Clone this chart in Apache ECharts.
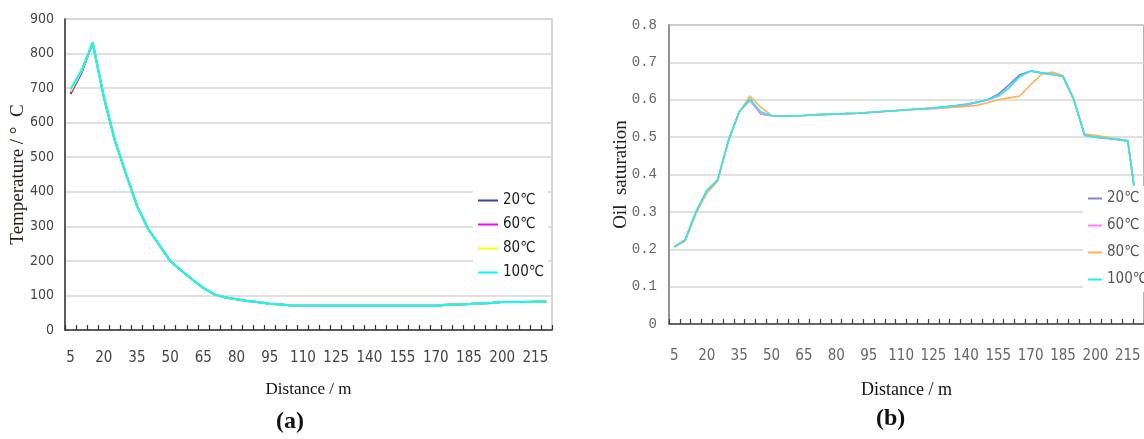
<!DOCTYPE html>
<html>
<head>
<meta charset="utf-8">
<script src="https://cdn.jsdelivr.net/npm/echarts@6/dist/echarts.min.js"></script>
<style>
  html, body { margin: 0; padding: 0; background: #ffffff; }
  #wrap { position: relative; width: 1144px; height: 439px; overflow: hidden; }
  .panel { position: absolute; left: 0; top: 0; width: 1144px; height: 439px; }
</style>
</head>
<body>
<div id="wrap">
  <div id="chartA" class="panel"></div>
  <div id="chartB" class="panel"></div>
</div>
<script>
// Distance along the well (m), one category every 5 m
const distance = [5, 10, 15, 20, 25, 30, 35, 40, 45, 50, 55, 60, 65, 70, 75, 80, 85, 90, 95, 100,
  105, 110, 115, 120, 125, 130, 135, 140, 145, 150, 155, 160, 165, 170, 175, 180, 185, 190, 195, 200,
  205, 210, 215, 220];

const seriesNames = ['20℃', '60℃', '80℃', '100℃'];

// (a) Temperature profile (°C) for each injection temperature
const temp20 = [683, 745, 832, 675, 549, 453, 360, 293, 247, 200, 172, 146, 122, 103, 94, 89, 84, 80, 76, 74,
  71, 70, 70, 70, 70, 70, 70, 70, 70, 70, 70, 70, 70, 70, 73, 74, 75, 77, 78, 81, 81, 81, 82, 82];
const temp60 = [686, 748, 832, 675, 549, 453, 360, 293, 247, 200, 172, 146, 122, 103, 94, 89, 84, 80, 76, 74,
  71, 70, 70, 70, 70, 70, 70, 70, 70, 70, 70, 70, 70, 70, 73, 74, 75, 77, 78, 81, 81, 81, 82, 82];
const temp80 = [690, 750, 832, 675, 549, 453, 360, 293, 247, 200, 172, 146, 122, 103, 94, 89, 84, 80, 76, 74,
  71, 70, 70, 70, 70, 70, 70, 70, 70, 70, 70, 70, 70, 70, 73, 74, 75, 77, 78, 81, 81, 81, 82, 82];
const temp100 = [697, 752, 832, 675, 549, 453, 360, 293, 247, 200, 172, 146, 122, 103, 94, 89, 84, 80, 76, 74,
  71, 70, 70, 70, 70, 70, 70, 70, 70, 70, 70, 70, 70, 70, 73, 74, 75, 77, 78, 81, 81, 81, 82, 82];

// (b) Oil saturation profile for each injection temperature
const sat20 = [0.207, 0.225, 0.300, 0.357, 0.385, 0.490, 0.568, 0.602, 0.562, 0.557, 0.556, 0.557, 0.558, 0.560, 0.561,
  0.562, 0.563, 0.564, 0.566, 0.568, 0.570, 0.572, 0.574, 0.576, 0.578, 0.581, 0.584, 0.588, 0.593, 0.600,
  0.615, 0.640, 0.667, 0.677, 0.672, 0.668, 0.662, 0.600, 0.505, 0.500, 0.497, 0.494, 0.490, 0.280];
const sat60 = [0.207, 0.225, 0.300, 0.357, 0.385, 0.490, 0.568, 0.598, 0.562, 0.557, 0.556, 0.557, 0.558, 0.560, 0.561,
  0.562, 0.563, 0.564, 0.566, 0.568, 0.570, 0.572, 0.574, 0.574, 0.576, 0.578, 0.581, 0.585, 0.593, 0.600,
  0.610, 0.632, 0.662, 0.677, 0.672, 0.668, 0.662, 0.600, 0.505, 0.500, 0.497, 0.494, 0.490, 0.280];
const sat80 = [0.205, 0.222, 0.295, 0.350, 0.382, 0.488, 0.566, 0.610, 0.580, 0.558, 0.556, 0.557, 0.558, 0.560, 0.561,
  0.562, 0.563, 0.564, 0.566, 0.568, 0.570, 0.572, 0.574, 0.576, 0.578, 0.579, 0.580, 0.582, 0.585, 0.592,
  0.600, 0.605, 0.610, 0.640, 0.668, 0.674, 0.665, 0.603, 0.508, 0.505, 0.500, 0.495, 0.490, 0.280];
const sat100 = [0.207, 0.225, 0.300, 0.357, 0.385, 0.490, 0.568, 0.602, 0.568, 0.557, 0.556, 0.557, 0.558, 0.560, 0.561,
  0.562, 0.563, 0.564, 0.566, 0.568, 0.570, 0.572, 0.574, 0.576, 0.578, 0.581, 0.584, 0.588, 0.593, 0.600,
  0.610, 0.632, 0.662, 0.677, 0.672, 0.668, 0.662, 0.600, 0.505, 0.500, 0.497, 0.494, 0.490, 0.280];

const coloursA = ['#4040a0', '#ff00ff', '#ffff00', '#00ffff'];
const coloursB = ['#8484cc', '#ff80ff', '#ffb050', '#20f0f0'];

const NARROW = "'Liberation Sans Narrow', 'DejaVu Sans Condensed', 'Noto Sans CJK SC', sans-serif";
const SERIF = "'Liberation Serif', 'DejaVu Serif', serif";
const MONO = "'Liberation Mono', 'DejaVu Sans Mono', monospace";

function lineSeries(names, dataSets, colours, width) {
  return names.map((n, k) => ({
    name: n,
    type: 'line',
    data: dataSets[k],
    symbol: 'none',
    smooth: false,
    lineStyle: { color: colours[k], width: width },
    itemStyle: { color: colours[k] },
    emphasis: { disabled: true },
    animation: false
  }));
}

// ---------- (a) Temperature ----------
const chartA = echarts.init(document.getElementById('chartA'), null, { renderer: 'canvas' });
chartA.setOption({
  animation: false,
  backgroundColor: '#ffffff',
  grid: { left: 65, top: 19, width: 487, height: 311, show: true, borderColor: '#c8c8c8', borderWidth: 1.5, backgroundColor: 'transparent' },
  xAxis: {
    type: 'category',
    data: distance,
    boundaryGap: true,
    name: 'Distance / m',
    nameLocation: 'middle',
    nameGap: 51,
    nameTextStyle: { fontFamily: SERIF, fontSize: 17, color: '#111' },
    axisLine: { lineStyle: { color: '#333', width: 1.5 } },
    axisTick: { show: true, inside: true, length: 5, interval: 0, lineStyle: { color: '#333', width: 1.2 } },
    axisLabel: { interval: 2, margin: 21, fontFamily: NARROW, fontSize: 15, color: '#444' },
    splitLine: { show: false }
  },
  yAxis: {
    type: 'value',
    min: 0, max: 900, interval: 100,
    name: 'Temperature / °  C',
    nameLocation: 'middle',
    nameGap: 37,
    nameMoveOverlap: false,
    nameRotate: 90,
    nameTextStyle: { fontFamily: SERIF, fontSize: 19, color: '#2a1a10' },
    axisLine: { show: true, lineStyle: { color: '#333', width: 1.5 } },
    axisTick: { show: false },
    axisLabel: { margin: 11, fontFamily: NARROW, fontSize: 14, color: '#444' },
    splitLine: { lineStyle: { color: '#d6d6d6', width: 1.5 } }
  },
  legend: {
    orient: 'vertical',
    left: 473, top: 188,
    padding: [5, 4, 5, 5],
    backgroundColor: '#ffffff',
    itemWidth: 20, itemHeight: 2, itemGap: 9,
    icon: 'rect',
    data: seriesNames,
    textStyle: { fontFamily: NARROW, fontSize: 15, color: '#222', lineHeight: 15 },
    selectedMode: false
  },
  series: lineSeries(seriesNames, [temp20, temp60, temp80, temp100], coloursA, 2),
  graphic: [{
    type: 'text', left: 276, top: 410,
    style: { text: '(a)', font: "bold 24px 'Liberation Serif', serif", fill: '#111' }
  }]
});

// ---------- (b) Oil saturation ----------
const chartB = echarts.init(document.getElementById('chartB'), null, { renderer: 'canvas' });
chartB.setOption({
  animation: false,
  grid: { left: 669, top: 25, width: 487, height: 299, show: true, borderColor: '#9a9a9a', borderWidth: 1.5, backgroundColor: 'transparent' },
  xAxis: {
    type: 'category',
    data: distance,
    boundaryGap: true,
    name: 'Distance / m',
    nameLocation: 'middle',
    nameGap: 57,
    nameTextStyle: { fontFamily: SERIF, fontSize: 18, color: '#111' },
    axisLine: { lineStyle: { color: '#444', width: 1.5 } },
    axisTick: { show: true, inside: true, length: 5, interval: 0, lineStyle: { color: '#444', width: 1.2 } },
    axisLabel: { interval: 2, margin: 25, fontFamily: NARROW, fontSize: 15, color: '#666' },
    splitLine: { show: false }
  },
  yAxis: {
    type: 'value',
    min: 0, max: 0.8, interval: 0.1,
    name: 'Oil  saturation',
    nameLocation: 'middle',
    nameGap: 38,
    nameMoveOverlap: false,
    nameRotate: 90,
    nameTextStyle: { fontFamily: SERIF, fontSize: 19, color: '#222' },
    axisLine: { show: true, lineStyle: { color: '#888', width: 1.5 } },
    axisTick: { show: false },
    axisLabel: {
      margin: 12, fontFamily: MONO, fontSize: 14, color: '#666',
      formatter: v => (v === 0 ? '0' : v.toFixed(1))
    },
    splitLine: { lineStyle: { color: '#d6d6d6', width: 1.5 } }
  },
  legend: {
    orient: 'vertical',
    left: 1083, top: 186,
    padding: [5, 4, 5, 5],
    backgroundColor: '#ffffff',
    itemWidth: 14, itemHeight: 2, itemGap: 12,
    icon: 'rect',
    data: seriesNames,
    textStyle: { fontFamily: NARROW, fontSize: 15, color: '#555', lineHeight: 15 },
    selectedMode: false
  },
  series: lineSeries(seriesNames, [sat20, sat60, sat80, sat100], coloursB, 1.6),
  graphic: [{
    type: 'text', left: 876, top: 407,
    style: { text: '(b)', font: "bold 24px 'Liberation Serif', serif", fill: '#111' }
  }]
});
</script>
</body>
</html>
